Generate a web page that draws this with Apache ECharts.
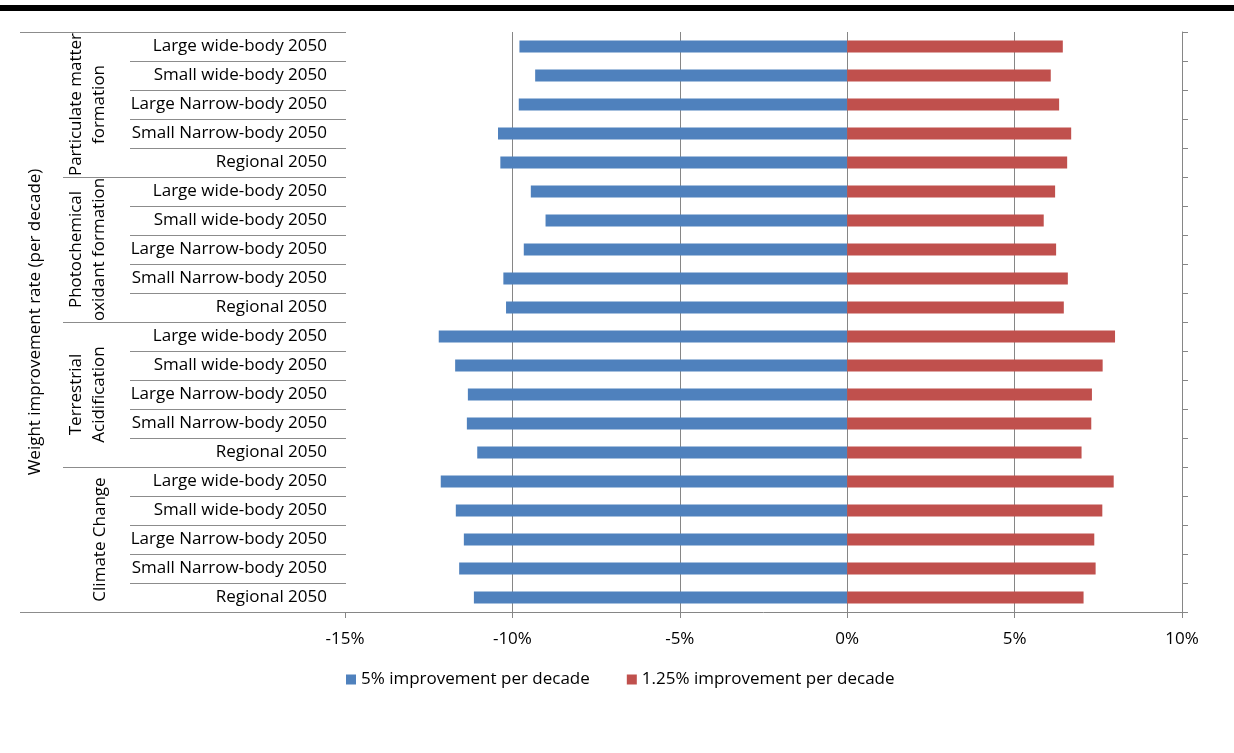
<!DOCTYPE html>
<html>
<head>
<meta charset="utf-8">
<script src="https://cdn.jsdelivr.net/npm/echarts@6/dist/echarts.min.js"></script>
<style>
html,body{margin:0;padding:0;background:#fff;}
#chart{width:1234px;height:753px;}
</style>
</head>
<body>
<div id="chart"></div>
<script>
// ---- data (top to bottom) ----
var categories = [
  'Large wide-body 2050','Small wide-body 2050','Large Narrow-body 2050','Small Narrow-body 2050','Regional 2050',
  'Large wide-body 2050','Small wide-body 2050','Large Narrow-body 2050','Small Narrow-body 2050','Regional 2050',
  'Large wide-body 2050','Small wide-body 2050','Large Narrow-body 2050','Small Narrow-body 2050','Regional 2050',
  'Large wide-body 2050','Small wide-body 2050','Large Narrow-body 2050','Small Narrow-body 2050','Regional 2050'
];
var groups = [
  ['Particulate matter', 'formation'],
  ['Photochemical', 'oxidant formation'],
  ['Terrestrial', 'Acidification'],
  ['Climate Change']
];
var groupSize = 5;
var seriesNames = ['5% improvement per decade', '1.25% improvement per decade'];
var improvement5 = [
  -9.79, -9.32, -9.81, -10.43, -10.36,
  -9.45, -9.01, -9.66, -10.27, -10.19,
  -12.20, -11.71, -11.33, -11.36, -11.05,
  -12.14, -11.69, -11.45, -11.59, -11.15
];
var improvement125 = [
  6.44, 6.08, 6.33, 6.69, 6.57,
  6.21, 5.87, 6.24, 6.59, 6.47,
  8.00, 7.63, 7.31, 7.29, 7.00,
  7.96, 7.62, 7.38, 7.42, 7.06
];
var xTicks = { min: -15, max: 10, interval: 5 };
var axisTitle = 'Weight improvement rate (per decade)';

var FONT = '"Open Sans", "Noto Sans", sans-serif';
var FS = 17;
var GRAY = '#868686';
var LINE = '#8c8c8c';

var chart = echarts.init(document.getElementById('chart'), null, { renderer: 'canvas' });

var option = {
  animation: false,
  backgroundColor: '#fff',
  textStyle: { fontFamily: FONT },
  grid: { left: 345, right: 52, top: 32, bottom: 141, containLabel: false },
  legend: {
    data: seriesNames,
    left: 341, top: 666,
    icon: 'rect', itemWidth: 10, itemHeight: 10, itemGap: 37,
    textStyle: { fontFamily: FONT, fontSize: FS, color: '#000', padding: [0, 0, 0, 0] }
  },
  xAxis: {
    type: 'value', min: xTicks.min, max: xTicks.max, interval: xTicks.interval,
    axisLine: { show: true, lineStyle: { color: GRAY, width: 1 } },
    axisTick: { show: true, length: 6, lineStyle: { color: GRAY } },
    axisLabel: { formatter: '{value}%', fontFamily: FONT, fontSize: FS, color: '#000', margin: 19 },
    splitLine: { show: true, showMinLine: false, lineStyle: { color: GRAY, width: 1 } }
  },
  yAxis: [
    {
      type: 'category', data: categories, inverse: true, position: 'left',
      axisLine: { show: false }, axisTick: { show: false },
      axisLabel: { fontFamily: FONT, fontSize: FS, color: '#000', margin: 18 },
      splitLine: { show: false }
    },
    {
      type: 'category', data: categories, inverse: true, position: 'right',
      axisLine: { show: true, lineStyle: { color: GRAY, width: 1 } },
      axisTick: { show: true, length: 6, inside: false, lineStyle: { color: GRAY } },
      axisLabel: { show: false },
      splitLine: { show: false }
    }
  ],
  series: [
    {
      name: seriesNames[0], type: 'bar', data: improvement5, yAxisIndex: 0,
      barWidth: 12, barGap: '-100%',
      itemStyle: { color: '#4F81BD' }
    },
    {
      name: seriesNames[1], type: 'bar', data: improvement125, yAxisIndex: 0,
      barWidth: 12, barGap: '-100%',
      itemStyle: { color: '#C0504D' }
    }
  ]
};
chart.setOption(option);

// ---- table lines and group labels, positioned through the axes ----
function buildGraphics() {
  var c0 = chart.convertToPixel({ yAxisIndex: 0 }, 0);
  var c1 = chart.convertToPixel({ yAxisIndex: 0 }, 1);
  var band = c1 - c0;
  var xLeft = chart.convertToPixel({ xAxisIndex: 0 }, xTicks.min);
  var xRight = chart.convertToPixel({ xAxisIndex: 0 }, xTicks.max);
  var n = categories.length;
  var els = [];
  // top black band
  els.push({ type: 'rect', shape: { x: 0, y: 5, width: 1234, height: 6 }, style: { fill: '#000' }, silent: true });
  var colTitle = 20, colGroup = 63, colLabel = 130;
  for (var i = 0; i <= n; i++) {
    var y = Math.round(c0 - band / 2 + i * band) + 0.5;
    var x1;
    if (i === 0 || i === n) x1 = colTitle;
    else if (i % groupSize === 0) x1 = colGroup;
    else x1 = colLabel;
    var x2 = (i === n) ? xLeft : xLeft + 1;
    els.push({ type: 'line', shape: { x1: x1, y1: y, x2: x2, y2: y }, style: { stroke: LINE, lineWidth: 1 }, silent: true });
  }
  // extend bottom axis line slightly right past the right axis
  var yb = Math.round(c0 - band / 2 + n * band) + 0.5;
  els.push({ type: 'line', shape: { x1: xRight, y1: yb, x2: xRight + 6, y2: yb }, style: { stroke: GRAY, lineWidth: 1 }, silent: true });
  // group labels
  var lineH = 23;
  groups.forEach(function (g, gi) {
    var yTop = c0 - band / 2 + gi * groupSize * band;
    var yMid = yTop + groupSize * band / 2;
    var nLines = g.length;
    var xCenter = nLines === 1 ? 100 : 88;
    g.forEach(function (txt, li) {
      var x = xCenter + (li - (nLines - 1) / 2) * lineH;
      els.push({
        type: 'text', x: x, y: yMid, rotation: Math.PI / 2,
        style: { text: txt, font: FS + 'px ' + FONT, fill: '#000', align: 'center', verticalAlign: 'middle' },
        silent: true
      });
    });
  });
  // axis title
  var yAll = c0 - band / 2 + n * band / 2;
  els.push({
    type: 'text', x: 35, y: yAll, rotation: Math.PI / 2,
    style: { text: axisTitle, font: FS + 'px ' + FONT, fill: '#000', align: 'center', verticalAlign: 'middle' },
    silent: true
  });
  chart.setOption({ graphic: { elements: els } });
}
buildGraphics();
</script>
</body>
</html>
